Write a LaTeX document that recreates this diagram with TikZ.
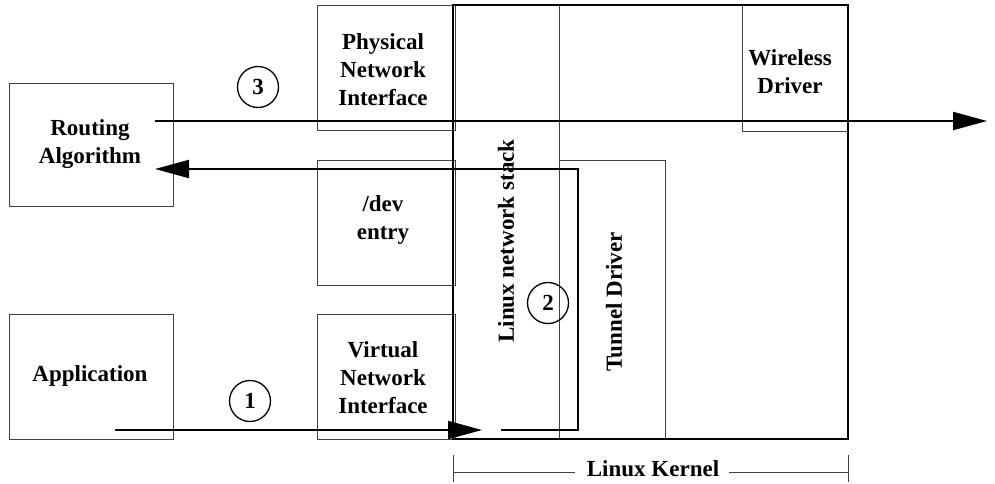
\documentclass[tikz,border=0pt]{standalone}
\usepackage{fontspec}
\setmainfont{Liberation Serif}
\usetikzlibrary{arrows.meta}
\begin{document}
\begin{tikzpicture}[x=1pt,y=-1pt,
  thinbox/.style={draw=black!75,line width=0.9pt},
  lbl/.style={font=\fontsize{23}{28}\selectfont\bfseries,align=center,inner sep=0pt},
  flow/.style={line width=2pt,-{Triangle[length=34pt,width=18pt]}},
  num/.style={circle,draw,line width=1.3pt,minimum size=41pt,inner sep=0pt,font=\fontsize{23}{24}\selectfont\bfseries}]
\useasboundingbox (0,0) rectangle (995,483);
% thin boxes
\draw[thinbox] (9,83) rectangle (173,206);
\draw[thinbox] (9,314) rectangle (173,439);
\draw[thinbox] (317,5) rectangle (455,130);
\draw[thinbox] (317,160) rectangle (455,285);
\draw[thinbox] (317,314) rectangle (455,439);
\draw[thinbox] (559,5) -- (559,439);
\draw[thinbox] (559,160) rectangle (665,439);
\draw[thinbox] (742,5) rectangle (848,131);
% labels
\node[lbl] (ra) at (90,144) {Routing\\Algorithm};
\node[lbl] (app) at (90,376) {Application};
\node[lbl] (pni) at (383,70) {Physical\\Network\\Interface};
\node[lbl] (dev) at (383,220) {/dev\\entry};
\node[lbl] (vni) at (383,378) {Virtual\\Network\\Interface};
\node[lbl] (wd) at (790,72) {Wireless\\Driver};
\node[lbl,rotate=90] (lns) at (506,241) {Linux network stack};
\node[lbl,rotate=90] (td) at (614,302) {Tunnel Driver};
% kernel box
\draw[line width=2pt] (453,5) rectangle (848,439);
% arrows
\coordinate (a3s) at (155,121);
\coordinate (a3e) at (987,121);
\draw[flow] (a3s) -- (a3e);
\coordinate (a2s) at (501,430);
\coordinate (a2c1) at (578,430);
\coordinate (a2c2) at (578,169);
\coordinate (a2e) at (155,169);
\draw[flow,line join=miter] (a2s) -- (a2c1) -- (a2c2) -- (a2e);
\coordinate (a1s) at (115,430);
\coordinate (a1e) at (482,430);
\draw[flow] (a1s) -- (a1e);
% numbers
\node[num] (n3) at (258,87) {3};
\node[num] (n2) at (548,303) {2};
\node[num] (n1) at (250,401) {1};
% kernel dimension
\node[lbl] (lk) at (653,469) {Linux Kernel};
\coordinate (lkl) at (453,472);
\coordinate (lkr) at (848,472);
\draw[thinbox] (453,455) -- (453,482);
\draw[thinbox] (848,455) -- (848,482);
\draw[thinbox] (lkl) -- ([xshift=-12pt]lk.west |- lkl);
\draw[thinbox] ([xshift=10pt]lk.east |- lkr) -- (lkr);
\end{tikzpicture}
\end{document}
